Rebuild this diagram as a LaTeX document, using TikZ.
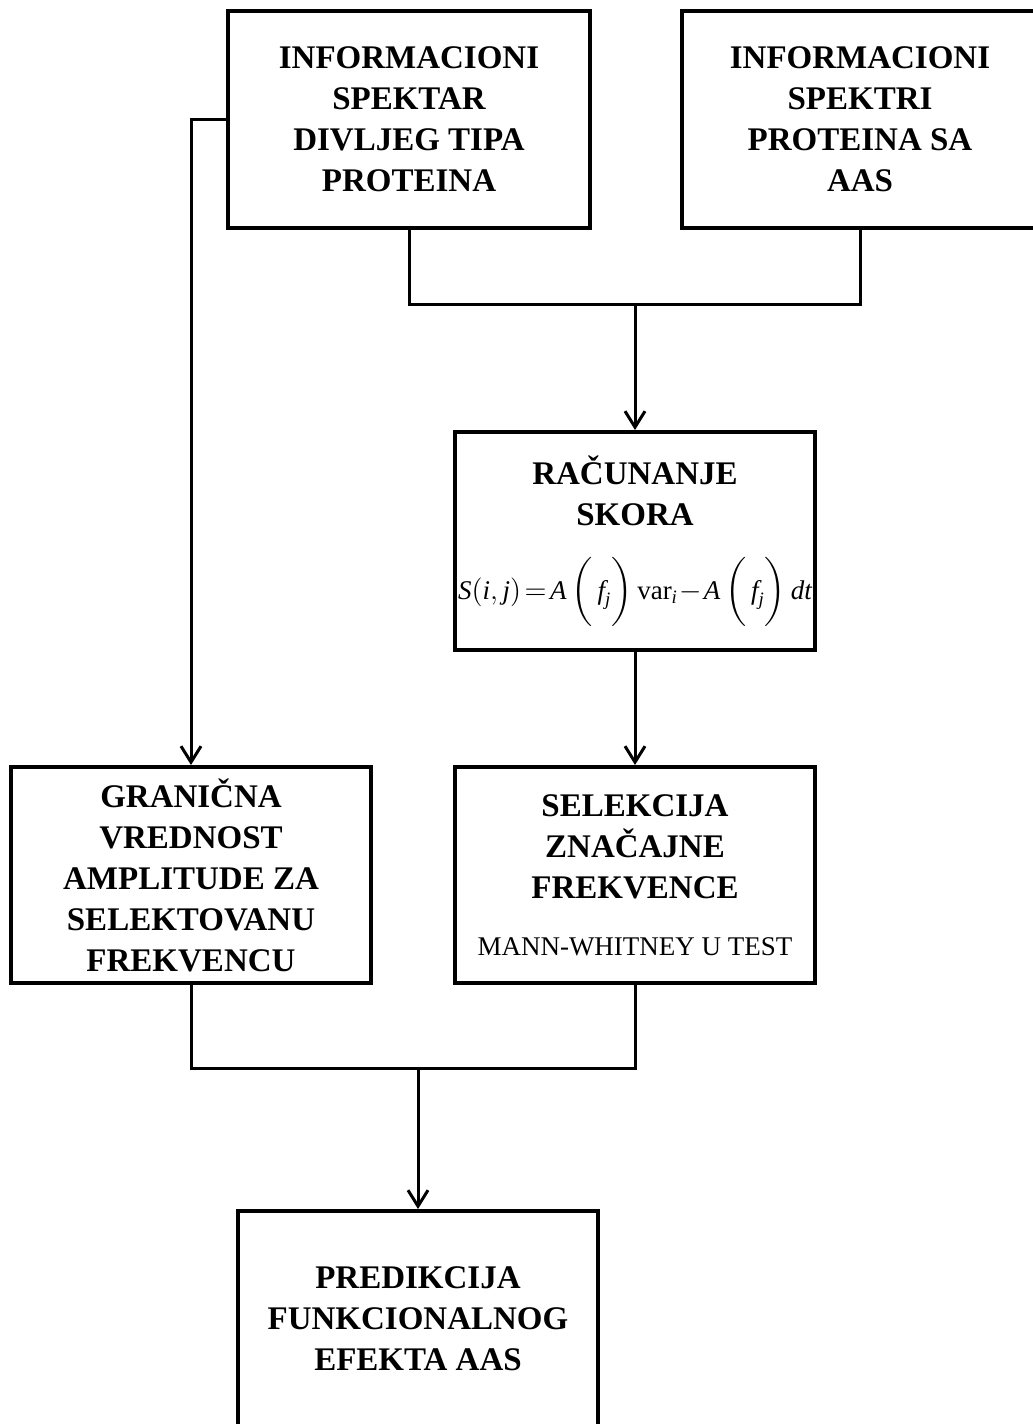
\documentclass[tikz,border=0pt]{standalone}
\usepackage{amsmath}
\usepackage{fontspec}
\setmainfont{Liberation Serif}
\usetikzlibrary{arrows.meta}
\begin{document}
\begin{tikzpicture}[x=0.5pt,y=-0.5pt,>={Straight Barb[length=8pt,width=10pt]},
        box/.style={draw,line width=2pt,align=center,inner sep=0pt,minimum width=180pt,minimum height=108.5pt,font=\fontsize{16.5}{20.5}\selectfont\bfseries},
        link/.style={line width=1.5pt}]
        \useasboundingbox(0,0)rectangle(1033,1424);
        \clip(0,0)rectangle(1033,1424);
        \node[box,minimum width=181pt](wild)at(409,119.5){INFORMACIONI\\SPEKTAR\\DIVLJEG TIPA\\PROTEINA};
        \node[box,minimum width=178pt](aas)at(860,119.5){INFORMACIONI\\SPEKTRI\\PROTEINA SA\\AAS};
        \node[box,minimum height=109pt,text width=180pt](score)at(635,541){RAČUNANJE\\SKORA\\[15pt]
            {\fontsize{13.5}{16}\selectfont\mdseries$\textit{S}(\textit{i},\textit{j})\!=\!\textit{A}\left(\rule[-12pt]{0pt}{24pt}\,\textit{f}_{\textit{j}}\right)\mathrm{var}_{\textit{i}}\!-\!\textit{A}\left(\rule[-12pt]{0pt}{24pt}\,\textit{f}_{\textit{j}}\right)\textit{dt}$}};
        \node[box,minimum height=108pt](limit)at(191,875){GRANIČNA\\VREDNOST\\AMPLITUDE ZA\\SELEKTOVANU\\FREKVENCU};
        \node[box,minimum height=108pt](select)at(635,875){SELEKCIJA\\ZNAČAJNE\\FREKVENCE\\[8pt]{\fontsize{13.5}{16}\selectfont\mdseries MANN-WHITNEY U TEST}};
        \node[box,minimum height=108pt](predict)at(418,1319){PREDIKCIJA\\FUNKCIONALNOG\\EFEKTA AAS};
        \coordinate(top)at(635,304);
        \coordinate(bottom)at(418,1068);
        \draw[link](wild.south)|-(top)-|(aas.south);
        \draw[link,->](top)--(score.north);
        \draw[link,->](wild.west)-|(limit.north);
        \draw[link,->](score.south)--(select.north);
        \draw[link](limit.south)|-(bottom)-|(select.south);
        \draw[link,->](bottom)--(predict.north);
    \end{tikzpicture}
\end{document}
